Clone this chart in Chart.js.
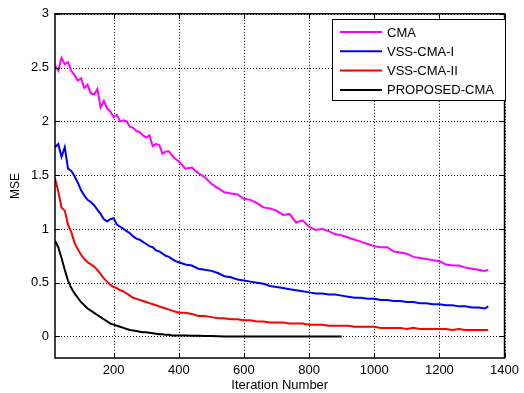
<!DOCTYPE html>
<html>
<head>
<meta charset="utf-8">
<script src="https://cdn.jsdelivr.net/npm/chart.js@4"></script>
<style>
  html, body { margin: 0; padding: 0; background: #fff; }
  #wrap { width: 524px; height: 393px; }
</style>
</head>
<body>
<div id="wrap"><canvas id="grafico" width="524" height="393"></canvas></div>
<script>
// Dados
const iteracoes = [20,30,40,50,60,70,80,90,100,110,120,130,140,150,160,170,180,190,200,210,220,230,240,250,260,270,280,290,300,310,320,330,340,350,360,370,380,390,400,
  420,440,460,480,500,520,540,560,580,600,620,640,660,680,700,720,740,760,780,800,820,840,860,880,900,
  920,940,960,980,1000,1020,1040,1060,1080,1100,1120,1140,1160,1180,1200,1220,1240,1260,1280,1300,1320,1340,1350];

const cma = [2.52,2.47,2.59,2.53,2.55,2.47,2.43,2.38,2.40,2.31,2.34,2.26,2.25,2.30,2.13,2.19,2.12,2.09,2.04,2.06,2.00,2.01,2.00,1.95,1.94,1.91,1.90,1.87,1.85,1.87,1.77,1.79,1.78,1.70,1.72,1.72,1.68,1.65,1.63,
  1.56,1.57,1.52,1.48,1.42,1.38,1.34,1.33,1.32,1.28,1.27,1.24,1.20,1.19,1.17,1.13,1.14,1.06,1.08,1.02,0.99,1.00,0.98,0.95,0.94,
  0.92,0.90,0.88,0.86,0.84,0.83,0.83,0.79,0.78,0.77,0.74,0.73,0.72,0.71,0.70,0.67,0.66,0.66,0.64,0.63,0.62,0.61,0.62];

const vssCma1 = [1.76,1.79,1.67,1.76,1.56,1.54,1.49,1.43,1.36,1.31,1.27,1.25,1.22,1.18,1.14,1.09,1.07,1.09,1.10,1.04,1.02,1.00,0.98,0.96,0.93,0.91,0.90,0.88,0.86,0.84,0.83,0.80,0.79,0.77,0.75,0.74,0.72,0.70,0.69,
  0.67,0.66,0.63,0.62,0.61,0.59,0.56,0.55,0.53,0.52,0.51,0.50,0.49,0.47,0.46,0.45,0.44,0.43,0.42,0.41,0.40,0.40,0.39,0.39,0.38,
  0.37,0.36,0.36,0.35,0.35,0.34,0.34,0.33,0.33,0.32,0.32,0.31,0.31,0.30,0.30,0.29,0.29,0.28,0.28,0.27,0.27,0.26,0.28];

const vssCma2 = [1.47,1.35,1.20,1.17,1.04,0.97,0.87,0.81,0.76,0.72,0.69,0.67,0.65,0.62,0.58,0.54,0.51,0.48,0.46,0.45,0.43,0.42,0.40,0.38,0.36,0.35,0.34,0.33,0.32,0.31,0.30,0.29,0.28,0.27,0.26,0.25,0.24,0.23,0.22,
  0.22,0.21,0.19,0.19,0.18,0.17,0.17,0.16,0.16,0.15,0.15,0.14,0.14,0.13,0.13,0.13,0.12,0.12,0.12,0.11,0.11,0.11,0.10,0.10,0.10,
  0.10,0.09,0.09,0.09,0.09,0.08,0.08,0.08,0.08,0.07,0.08,0.07,0.07,0.07,0.07,0.07,0.06,0.07,0.06,0.06,0.06,0.06,0.06];

// proposto só vai até a iteração 900
const propostoCma = [0.89,0.83,0.73,0.62,0.52,0.45,0.40,0.36,0.32,0.29,0.26,0.24,0.22,0.20,0.18,0.16,0.14,0.12,0.11,0.10,0.09,0.08,0.07,0.06,0.055,0.05,0.045,0.04,0.04,0.035,0.03,0.025,0.02,0.02,0.015,0.015,0.01,0.01,0.01,
  0.01,0.008,0.006,0.005,0.004,0.002,0,0,0,0,0,0,0,0,0,0,0,0,0,0,0,0,0,0,0];

const nomes = ['CMA', 'VSS-CMA-I', 'VSS-CMA-II', 'PROPOSED-CMA'];
const cores = ['#ff00ff', '#0000ff', '#ff0000', '#000000'];
const ticksX = [200,400,600,800,1000,1200,1400];
const ticksY = [0,0.5,1,1.5,2,2.5,3];

const fonte = '"Liberation Sans", Arial, sans-serif';

function pontos(serie) {
  return serie.map((v, i) => ({ x: iteracoes[i], y: v }));
}

// grade pontilhada desenhada à mão (a do chart.js saiu contínua)
const grade = {
  id: 'grade',
  beforeDatasetsDraw(chart) {
    const { ctx, chartArea: a, scales } = chart;
    ctx.save();
    ctx.strokeStyle = '#000';
    ctx.lineWidth = 1;
    ctx.setLineDash([1, 2]);
    ctx.beginPath();
    scales.x.ticks.forEach(t => {
      const px = Math.round(scales.x.getPixelForValue(t.value)) + 0.5;
      ctx.moveTo(px, a.top); ctx.lineTo(px, a.bottom);
    });
    scales.y.ticks.forEach(t => {
      const py = Math.round(scales.y.getPixelForValue(t.value)) + 0.5;
      ctx.moveTo(a.left, py); ctx.lineTo(a.right, py);
    });
    ctx.stroke();
    ctx.restore();
  }
};

// moldura + marcas para dentro (estilo matlab)
const moldura = {
  id: 'moldura',
  afterDatasetsDraw(chart) {
    const { ctx, chartArea: a, scales } = chart;
    ctx.save();
    ctx.strokeStyle = '#000';
    ctx.lineWidth = 1;
    ctx.beginPath();
    scales.x.ticks.forEach(t => {
      const px = Math.round(scales.x.getPixelForValue(t.value)) + 0.5;
      ctx.moveTo(px, a.bottom); ctx.lineTo(px, a.bottom - 5);
      ctx.moveTo(px, a.top); ctx.lineTo(px, a.top + 5);
    });
    scales.y.ticks.forEach(t => {
      const py = Math.round(scales.y.getPixelForValue(t.value)) + 0.5;
      ctx.moveTo(a.left, py); ctx.lineTo(a.left + 5, py);
      ctx.moveTo(a.right, py); ctx.lineTo(a.right - 5, py);
    });
    ctx.stroke();
    ctx.lineWidth = 1.5;
    ctx.strokeRect(a.left, a.top, a.right - a.left, a.bottom - a.top);
    ctx.restore();
  }
};

// legenda desenhada dentro do gráfico
const legenda = {
  id: 'legenda',
  afterDraw(chart) {
    const { ctx } = chart;
    const x0 = 332, y0 = 19, w = 173, h = 81;
    ctx.save();
    ctx.fillStyle = '#fff';
    ctx.fillRect(x0, y0, w, h);
    ctx.strokeStyle = '#000';
    ctx.lineWidth = 1;
    ctx.strokeRect(x0 + 0.5, y0 + 0.5, w, h);
    ctx.font = '13px ' + fonte;
    ctx.textBaseline = 'middle';
    chart.data.datasets.forEach((ds, i) => {
      const y = y0 + 13 + i * 19.3;
      ctx.strokeStyle = ds.borderColor;
      ctx.lineWidth = 2;
      ctx.beginPath();
      ctx.moveTo(x0 + 8, y); ctx.lineTo(x0 + 50, y);
      ctx.stroke();
      ctx.fillStyle = '#000';
      ctx.fillText(ds.label, x0 + 55, y + 1);
    });
    ctx.restore();
  }
};

const series = [cma, vssCma1, vssCma2, propostoCma];

new Chart(document.getElementById('grafico').getContext('2d'), {
  type: 'line',
  data: {
    datasets: series.map((s, i) => ({
      label: nomes[i],
      data: pontos(s),
      borderColor: cores[i],
      backgroundColor: cores[i],
      borderWidth: 2,
      pointRadius: 0,
      tension: 0,
      fill: false
    }))
  },
  options: {
    responsive: false,
    animation: false,
    layout: { padding: { left: 0, right: 15, top: 13, bottom: 0 } },
    plugins: { legend: { display: false }, tooltip: { enabled: false } },
    scales: {
      x: {
        type: 'linear',
        min: 20,
        max: 1400,
        afterBuildTicks: s => { s.ticks = ticksX.map(v => ({ value: v })); },
        afterFit: s => { s.height = 35; },
        grid: { display: false, drawTicks: false, tickLength: 0 },
        border: { display: false },
        ticks: { color: '#000', font: { family: fonte, size: 13 }, padding: 5, maxRotation: 0, callback: v => String(v) },
        title: { display: true, text: 'Iteration Number', color: '#000', font: { family: fonte, size: 13 }, padding: { top: 0, bottom: 0 } }
      },
      y: {
        type: 'linear',
        min: -0.2,
        max: 3,
        afterBuildTicks: s => { s.ticks = ticksY.map(v => ({ value: v })); },
        afterFit: s => { s.width = 55; },
        grid: { display: false, drawTicks: false, tickLength: 0 },
        border: { display: false },
        ticks: { color: '#000', font: { family: fonte, size: 13 }, padding: 6, callback: v => String(v) },
        title: { display: true, text: 'MSE', color: '#000', font: { family: fonte, size: 12 }, padding: { top: 8, bottom: 0 } }
      }
    }
  },
  plugins: [grade, moldura, legenda]
});
</script>
</body>
</html>
